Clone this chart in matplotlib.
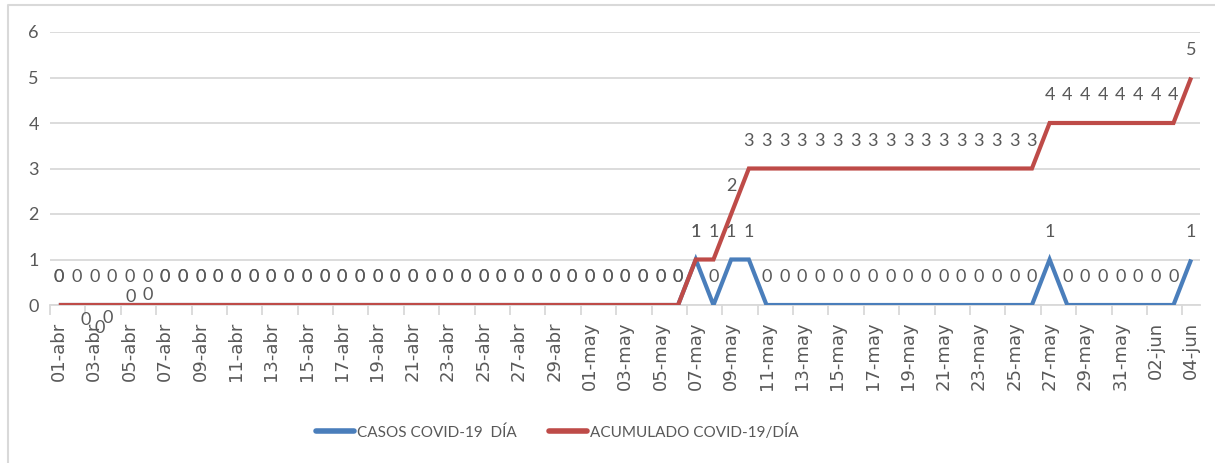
import matplotlib.pyplot as plt
from matplotlib.lines import Line2D

plt.rcParams.update({
    "font.family": ["Lato", "DejaVu Sans"],
    "text.color": "#595959",
    "xtick.color": "#595959",
    "ytick.color": "#595959",
})

BLUE = "#4A7EBB"
RED = "#BE4B48"
GRID = "#D9D9D9"

# categorías: 01-abr .. 04-jun
meses = [("abr", 30), ("may", 31), ("jun", 4)]
fechas = [f"{d:02d}-{m}" for m, n in meses for d in range(1, n + 1)]

casos_dia = ([0] * 36 + [1, 0, 1, 1] + [0] * 16 + [1] + [0] * 7 + [1])
acumulado = ([0] * 36 + [1, 1, 2] + [3] * 17 + [4] * 8 + [5])

# etiquetas rojas desplazadas a mano (02-abr .. 06-abr), en puntos
red_label_shift = {1: (6.5, -11), 2: (3.6, -16.6), 3: (-2.9, -9.4),
                   4: (0.7, 5.5), 5: (0, 7.5)}

fig = plt.figure(figsize=(12.15, 4.63), dpi=100)
ax = fig.add_axes([50 / 1215, 1 - 305 / 463, 1150 / 1215, 273 / 463])

x = list(range(len(fechas)))
ax.plot(x, casos_dia, color=BLUE, linewidth=3.0, solid_joinstyle="miter",
        solid_capstyle="butt", zorder=3)
ax.plot(x, acumulado, color=RED, linewidth=3.0, solid_joinstyle="miter",
        solid_capstyle="butt", zorder=3)

lbl = dict(ha="center", va="center", fontsize=13, textcoords="offset points",
           annotation_clip=False)
for i, v in enumerate(casos_dia):
    ax.annotate(str(v), (i, v), xytext=(0, 20), **lbl)
for i, v in enumerate(acumulado):
    off = red_label_shift.get(i, (0, 20))
    ax.annotate(str(v), (i, v), xytext=off, **lbl)

ax.set_xlim(-0.5, len(fechas) - 0.5)
ax.set_ylim(0, 6)
ax.set_yticks(range(0, 7))
ax.yaxis.grid(True, color=GRID, linewidth=1.3)
ax.set_axisbelow(True)
for s in ["top", "right", "left"]:
    ax.spines[s].set_visible(False)
ax.spines["bottom"].set_color(GRID)
ax.spines["bottom"].set_linewidth(1.3)
ax.tick_params(axis="y", length=0, labelsize=13, pad=8)

ax.set_xticks(x[::2])
ax.set_xticklabels(fechas[::2], rotation=90, fontsize=13,
                   family=["DejaVu Sans"])
ax.tick_params(axis="x", length=0, pad=12)
ax.set_xticks([i - 0.5 for i in x[::2]], minor=True)
ax.tick_params(axis="x", which="minor", length=7, color=GRID, width=1.3)

# marco del gráfico
fig.add_artist(Line2D([8 / 1215, 8 / 1215, 1.0], [0, 1 - 5 / 463, 1 - 5 / 463],
                      transform=fig.transFigure, color=GRID, linewidth=1.5))

handles = [Line2D([], [], color=BLUE, linewidth=4, solid_capstyle="round"),
           Line2D([], [], color=RED, linewidth=4, solid_capstyle="round")]
fig.legend(handles, ["CASOS COVID-19  DÍA", "ACUMULADO COVID-19/DÍA"],
           loc="center", bbox_to_anchor=(557 / 1215, 1 - 432 / 463), ncol=2,
           frameon=False, handlelength=2.5, handletextpad=0.2,
           columnspacing=2.1, labelcolor="#595959",
           prop={"family": "Lato", "size": 11})

fig.savefig("out.png", dpi=100, facecolor="white")
